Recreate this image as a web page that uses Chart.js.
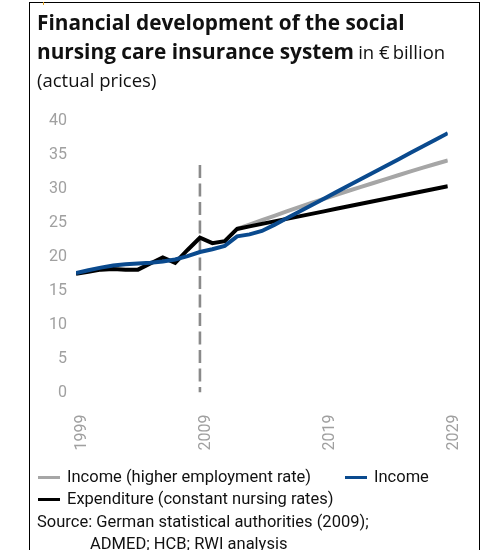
<!DOCTYPE html>
<html>
<head>
<meta charset="utf-8">
<script src="https://cdn.jsdelivr.net/npm/chart.js@4/dist/chart.umd.min.js"></script>
<style>
  html, body { margin: 0; padding: 0; background: #fff; }
  body { width: 489px; height: 550px; position: relative; overflow: hidden; }
  #frame { position: absolute; left: 29px; top: 2px; width: 451px; height: 600px;
           box-sizing: border-box; border: 1px solid #000; }
  #mark { position: absolute; left: 43px; top: 2px; width: 1px; height: 3px; background: #e3a21a; }
  #chart { position: absolute; left: 0; top: 0; }
  .ttl { position: absolute; left: 37px; white-space: nowrap; color: #111;
         font-family: "Open Sans", sans-serif; line-height: 29px; }
  .b { font-weight: 700; font-size: 20.8px; }
  .r { font-weight: 400; font-size: 18.5px; }
  .txt { position: absolute; white-space: nowrap; color: #111;
         font-family: Roboto, sans-serif; font-size: 16.5px; line-height: 20px; }
  .key { position: absolute; height: 3px; width: 22px; }
</style>
</head>
<body>
<div id="frame"></div>
<div id="mark"></div>
<canvas id="chart" width="489" height="550"></canvas>

<div class="ttl b" style="top:8px">Financial development of the social</div>
<div class="ttl" style="top:37px"><span class="b">nursing care insurance system</span> <span class="r">in €&#8201;billion</span></div>
<div class="ttl r" style="top:65px">(actual prices)</div>

<div id="legend"></div>
<div class="txt" style="left:37px;top:512px">Source: German statistical authorities (2009);</div>
<div class="txt" style="left:90px;top:534px">ADMED; HCB; RWI analysis</div>

<script>
// Years shown on the horizontal axis
const years = [1999, 2000, 2001, 2002, 2003, 2004, 2005, 2006, 2007, 2008, 2009,
               2010, 2011, 2012, 2013, 2014, 2015, 2016, 2017, 2018, 2019,
               2020, 2021, 2022, 2023, 2024, 2025, 2026, 2027, 2028, 2029];

// € billion, actual prices
const expenditure = [17.5, 17.8, 18.1, 18.2, 18.1, 18.1, 19.0, 19.9, 19.1, 21.0, 22.8,
                     22.0, 22.3, 24.1, 24.47, 24.84, 25.21, 25.58, 25.95, 26.32, 26.69,
                     27.06, 27.44, 27.81, 28.18, 28.55, 28.92, 29.29, 29.66, 30.03, 30.4];
const income = [17.6, 18.0, 18.4, 18.7, 18.9, 19.0, 19.1, 19.3, 19.6, 20.1, 20.7,
                21.1, 21.6, 23.0, 23.3, 23.8, 24.7, 25.66, 26.63, 27.59, 28.56,
                29.52, 30.49, 31.45, 32.41, 33.38, 34.34, 35.31, 36.27, 37.24, 38.2];
const incomeHigherEmployment = [null, null, null, null, null, null, null, null, null, null, null,
                                null, null, 24.1, 24.75, 25.4, 26.03, 26.67, 27.3, 27.92, 28.53,
                                29.13, 29.72, 30.3, 30.87, 31.44, 32.01, 32.57, 33.12, 33.67, 34.2];

// Axis ticks
const xTickYears = [1999, 2009, 2019, 2029];
const yTickValues = [0, 5, 10, 15, 20, 25, 30, 35, 40];

// Vertical marker separating observed data from the projection
const markerYear = 2009;
const markerTop = 33.5;

const seriesLabels = {
  higher: 'Income (higher employment rate)',
  income: 'Income',
  expenditure: 'Expenditure (constant nursing rates)'
};
const colors = { higher: '#a6a6a6', income: '#0a4a8e', expenditure: '#000000', marker: '#8a8a8a' };

const toPoints = (vals) => years.map((yr, i) => ({ x: yr, y: vals[i] }));

const lineStyle = { borderWidth: 4, pointRadius: 0, tension: 0, fill: false,
                    borderCapStyle: 'butt', borderJoinStyle: 'miter' };

new Chart(document.getElementById('chart'), {
  type: 'line',
  data: {
    datasets: [
      Object.assign({ label: seriesLabels.income, data: toPoints(income),
        borderColor: colors.income, backgroundColor: colors.income, order: 0 }, lineStyle),
      Object.assign({ label: seriesLabels.expenditure, data: toPoints(expenditure),
        borderColor: colors.expenditure, backgroundColor: colors.expenditure, order: 1 }, lineStyle),
      Object.assign({ label: seriesLabels.higher, data: toPoints(incomeHigherEmployment),
        borderColor: colors.higher, backgroundColor: colors.higher, order: 2 }, lineStyle),
      { label: 'marker', data: [{ x: markerYear, y: markerTop }, { x: markerYear, y: 0 }],
        borderColor: colors.marker, borderWidth: 2.6, borderDash: [13, 5.5],
        pointRadius: 0, order: 3 }
    ]
  },
  options: {
    responsive: false,
    devicePixelRatio: 1,
    animation: false,
    events: [],
    layout: { padding: { left: 0, top: 121, right: 36, bottom: 87.5 } },
    plugins: { legend: { display: false }, tooltip: { enabled: false } },
    scales: {
      x: {
        type: 'linear', min: 1999, max: 2029,
        grid: { display: false, drawTicks: false },
        border: { display: false },
        afterBuildTicks: (s) => { s.ticks = xTickYears.map(v => ({ value: v })); },
        afterFit: (s) => { s.height = 70; },
        ticks: { autoSkip: false, minRotation: 90, maxRotation: 90, padding: 22, labelOffset: 6,
                 color: '#a0a0a0', font: { family: 'Roboto', size: 16 },
                 callback: (v) => String(v) }
      },
      y: {
        min: 0, max: 40,
        grid: { display: false, drawTicks: false },
        border: { display: false },
        afterBuildTicks: (s) => { s.ticks = yTickValues.map(v => ({ value: v })); },
        afterFit: (s) => { s.width = 76; },
        ticks: { padding: 9, color: '#a0a0a0', font: { family: 'Roboto', size: 16 } }
      }
    }
  }
});

// Legend: two entries on the first row, one on the second
const legendRows = [
  { key: 'higher', left: 38, top: 477 },
  { key: 'income', left: 345, top: 477 },
  { key: 'expenditure', left: 38, top: 499 }
];
const legend = document.getElementById('legend');
legendRows.forEach(item => {
  const k = document.createElement('div');
  k.className = 'key';
  k.style.left = item.left + 'px';
  k.style.top = (item.top - 1.5) + 'px';
  k.style.background = colors[item.key];
  legend.appendChild(k);
  const t = document.createElement('div');
  t.className = 'txt';
  t.style.left = (item.left + 29) + 'px';
  t.style.top = (item.top - 10) + 'px';
  t.textContent = seriesLabels[item.key];
  legend.appendChild(t);
});
</script>
</body>
</html>
